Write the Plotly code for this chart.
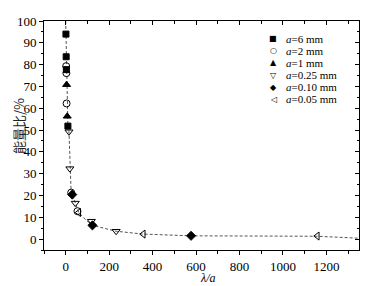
import plotly.graph_objects as go

# ---- data ----
sq_x = [1, 2, 3, 10]
sq_y = [94, 83.6, 77.7, 51.8]
ci_x = [2, 3, 4, 25, 54]
ci_y = [79.3, 76.1, 62.2, 21.3, 12.8]
tu_x = [4, 7]
tu_y = [70.8, 56.3]
td_x = [15, 19, 44, 118, 232]
td_y = [49.2, 32.3, 16.5, 8.2, 3.6]
di_x = [30, 123, 577]
di_y = [20.4, 6.3, 1.5]
tl_x = [60, 357, 1158]
tl_y = [12.2, 2.3, 1.4]

curve_x = [0, 1, 2, 3, 4, 7, 10, 15, 19, 25, 30, 44, 60, 90, 123, 232, 357, 577, 1158, 1350]
curve_y = [100, 94, 83.6, 78, 70.8, 56.3, 51.8, 49.2, 32.3, 21.3, 20.4, 16.5, 12.2, 9, 6.3, 3.6, 2.3, 1.5, 1.3, 0.4]

legend_names = ["<i>a</i>=6 mm", "<i>a</i>=2 mm", "<i>a</i>=1 mm",
                "<i>a</i>=0.25 mm", "<i>a</i>=0.10 mm", "<i>a</i>=0.05 mm"]
legend_syms = ["■", "○", "▲", "▽", "◆", "◁"]

x_ticks = [0, 200, 400, 600, 800, 1000, 1200]
y_ticks = [0, 10, 20, 30, 40, 50, 60, 70, 80, 90, 100]

fig = go.Figure()
fig.add_trace(go.Scatter(x=curve_x, y=curve_y, mode="lines",
                         line=dict(color="#555555", width=1, dash="3px,2px"),
                         showlegend=False, hoverinfo="skip"))

series = [
    (sq_x, sq_y, "square", 6),
    (ci_x, ci_y, "circle-open", 7),
    (tu_x, tu_y, "triangle-up", 7),
    (td_x, td_y, "triangle-down-open", 7),
    (di_x, di_y, "diamond", 7),
    (tl_x, tl_y, "triangle-left-open", 7),
]
for (xs, ys, sym, sz), nm in zip(series, legend_names):
    fig.add_trace(go.Scatter(x=xs, y=ys, mode="markers", name=nm,
                             marker=dict(symbol=sym, size=sz, color="black",
                                         line=dict(color="black", width=1)),
                             showlegend=False))

# dummy trace so the mirrored inside-tick axes are drawn
fig.add_trace(go.Scatter(x=[None], y=[None], xaxis="x2", yaxis="y2", showlegend=False))

axis_font = dict(family="Liberation Serif", size=13, color="black")
common = dict(showgrid=False, zeroline=False, showline=True, linecolor="black",
              linewidth=1, tickcolor="black", ticklen=4, automargin=False)
# the page body has an 8px margin, so the figure is sized/offset to compensate
fig.update_layout(
    width=365, height=278,
    margin=dict(l=36, r=14, t=13, b=36, autoexpand=False),
    paper_bgcolor="white", plot_bgcolor="white",
    showlegend=False,
    xaxis=dict(range=[-100, 1350], tickvals=x_ticks, ticks="outside", tickfont=axis_font,
               minor=dict(dtick=100, tick0=0, ticks="outside", ticklen=2.5, tickcolor="black"),
               **common),
    yaxis=dict(range=[-5, 100], tickvals=y_ticks, ticks="outside", tickfont=axis_font,
               minor=dict(dtick=5, tick0=0, ticks="outside", ticklen=2.5, tickcolor="black"),
               **common),
    xaxis2=dict(range=[-100, 1350], overlaying="x", side="top", tickvals=x_ticks,
                ticks="inside", showticklabels=False,
                minor=dict(dtick=100, tick0=0, ticks="inside", ticklen=2.5, tickcolor="black"),
                **common),
    yaxis2=dict(range=[-5, 100], overlaying="y", side="right", tickvals=y_ticks,
                ticks="inside", showticklabels=False,
                minor=dict(dtick=5, tick0=0, ticks="inside", ticklen=2.5, tickcolor="black"),
                **common),
)

annotations = []
# legend (symbols + labels); positions in window pixels mapped to paper fractions
for i, (sym, nm) in enumerate(zip(legend_syms, legend_names)):
    ypx = 39 + 12 * i
    yp = (250 - ypx) / 229
    annotations.append(dict(xref="paper", yref="paper", x=(273 - 44) / 315, y=yp,
                            text=sym, showarrow=False, xanchor="center", yanchor="middle",
                            font=dict(family="DejaVu Sans", size=8, color="black")))
    annotations.append(dict(xref="paper", yref="paper", x=(285 - 44) / 315, y=yp,
                            text=nm, showarrow=False, xanchor="left", yanchor="middle",
                            borderpad=0,
                            font=dict(family="Liberation Serif", size=11, color="black")))
# axis titles
annotations.append(dict(xref="paper", yref="paper", x=(19 - 44) / 315, y=(250 - 126) / 229,
                        text="能量比/%", textangle=-90, showarrow=False,
                        xanchor="center", yanchor="middle", borderpad=0,
                        font=dict(family="Noto Sans CJK SC", size=13, color="#222")))
annotations.append(dict(xref="paper", yref="paper", x=(208 - 44) / 315, y=(250 - 278) / 229,
                        text="<i>λ/a</i>", showarrow=False, xanchor="center", yanchor="middle",
                        borderpad=0,
                        font=dict(family="Liberation Serif", size=12, color="black")))
fig.update_layout(annotations=annotations)

fig.write_html("out.html")
